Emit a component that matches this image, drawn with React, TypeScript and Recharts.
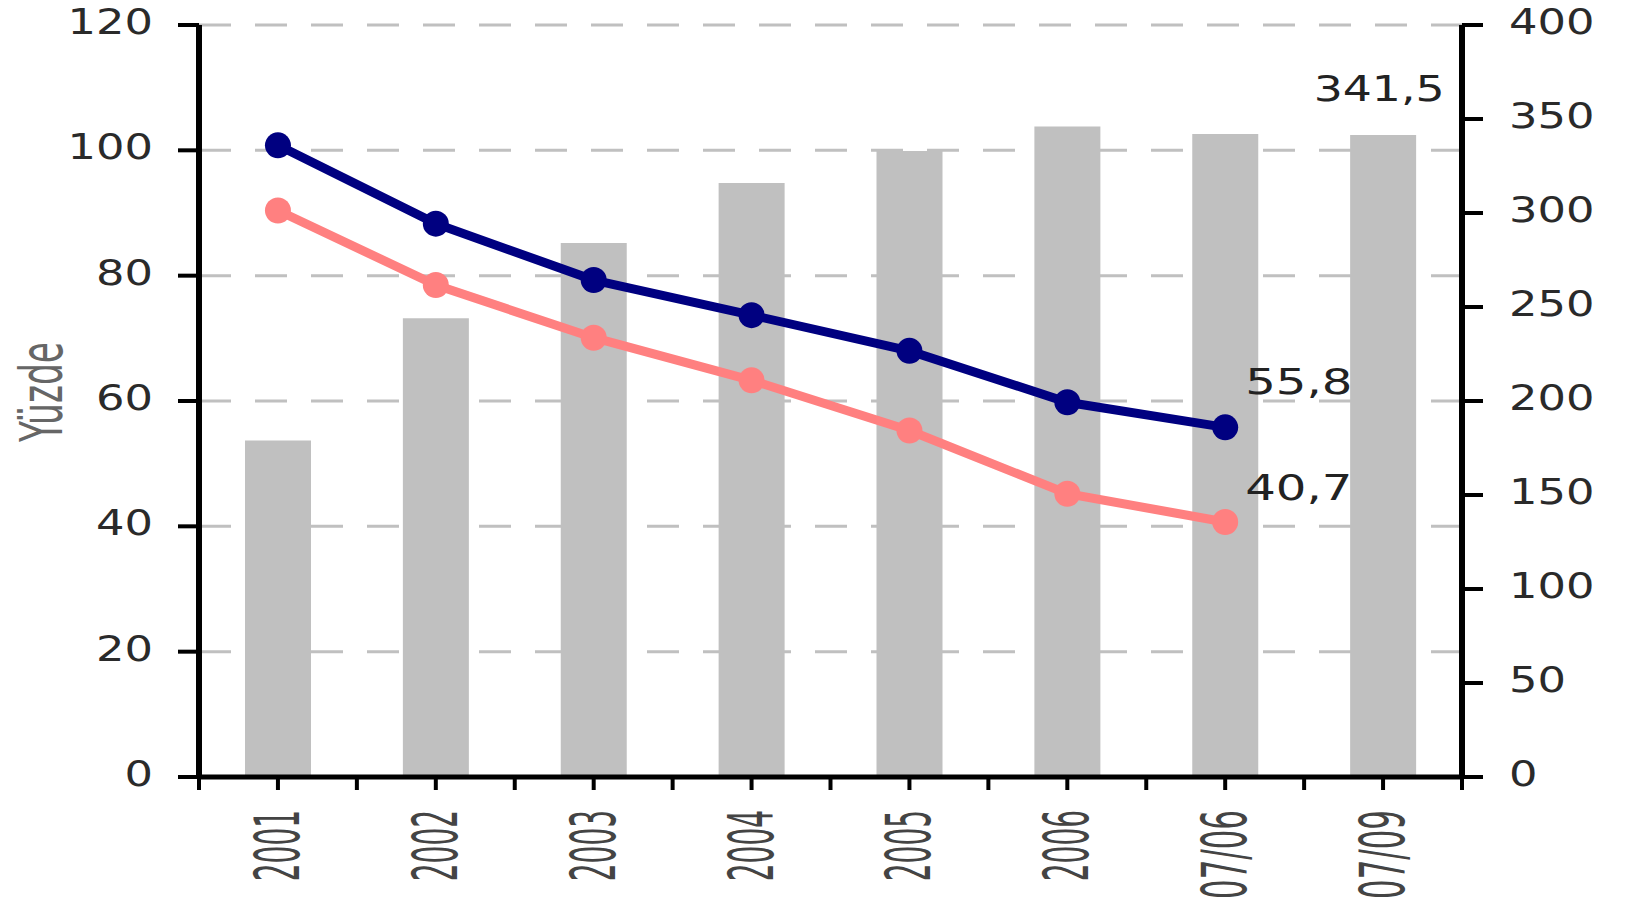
import React from 'react';
import {
  Bar,
  CartesianGrid,
  ComposedChart,
  Line,
  XAxis,
  YAxis,
} from 'recharts';

const years = ['2001', '2002', '2003', '2004', '2005', '2006', '07/06', '07/09'];
const barValues = [179, 244, 284, 316, 333, 346, 342, 341.5];
const navyValues = [100.8, 88.3, 79.3, 73.7, 68.0, 59.8, 55.8, null];
const pinkValues = [90.4, 78.5, 70.1, 63.3, 55.3, 45.2, 40.7, null];
const leftTicks = [0, 20, 40, 60, 80, 100, 120];
const rightTicks = [0, 50, 100, 150, 200, 250, 300, 350, 400];

const data = years.map((year, i) => ({
  year,
  bar: barValues[i],
  navy: navyValues[i],
  pink: pinkValues[i],
}));

const W = 1628;
const H = 904;
const PLOT_LEFT = 199;
const PLOT_RIGHT = 1462;
const PLOT_BOTTOM = 777;
const BAND = (PLOT_RIGHT - PLOT_LEFT) / years.length;
const FONT = 'DejaVu Sans';

const fmt = (v: number) => String(v).replace('.', ',');

// y axis numbers: wide, blurry looking digits
const YTick = ({ x, y, payload, anchor }: any) => {
  const s = String(payload.value);
  return (
    <text
      x={x}
      y={y + 9}
      textAnchor={anchor}
      fontFamily={FONT}
      fontSize={36}
      fill='#2a2a2a'
      textLength={s.length * 28.5}
      lengthAdjust='spacingAndGlyphs'
    >
      {s}
    </text>
  );
};

// x ticks at category centers and boundaries, labels rotated and squeezed
const XTick = ({ x, payload, index }: any) => {
  const half = BAND / 2;
  const tick = (tx: number) => (
    <line x1={tx} x2={tx} y1={PLOT_BOTTOM} y2={PLOT_BOTTOM + 13} stroke='#000' strokeWidth={4} />
  );
  const s = String(payload.value);
  return (
    <g>
      {tick(x)}
      {tick(x - half)}
      {index === years.length - 1 && tick(x + half)}
      <text
        transform={`translate(${x + 21},810) rotate(-90)`}
        textAnchor='end'
        fontFamily={FONT}
        fontSize={63}
        fill='#444'
        textLength={s.length * 17.8}
        lengthAdjust='spacingAndGlyphs'
      >
        {s}
      </text>
    </g>
  );
};

const makeEndLabel = (dy: number) => (props: any) => {
  const { x, y, value, index } = props;
  if (index !== 6 || value == null) return null;
  const s = fmt(value);
  return (
    <text
      x={x + 20}
      y={y + dy}
      fontFamily={FONT}
      fontSize={36}
      fill='#222'
      textLength={s.length * 26.8}
      lengthAdjust='spacingAndGlyphs'
    >
      {s}
    </text>
  );
};

const barLabel = (props: any) => {
  const { x, y, width, value, index } = props;
  if (index !== years.length - 1) return null;
  const s = fmt(value);
  return (
    <text
      x={x + width / 2 - 4}
      y={y - 34}
      textAnchor='middle'
      fontFamily={FONT}
      fontSize={36}
      fill='#222'
      textLength={s.length * 26.2}
      lengthAdjust='spacingAndGlyphs'
    >
      {s}
    </text>
  );
};

const yTitle = () => (
  <text
    transform='translate(62,392) rotate(-90)'
    textAnchor='middle'
    fontFamily={FONT}
    fontSize={58}
    fill='#666'
    textLength={100}
    lengthAdjust='spacingAndGlyphs'
  >
    Yüzde
  </text>
);

const App = () => {
  return (
    <div style={{ position: 'absolute', left: 0, top: 0, background: '#fff' }}>
      <ComposedChart
        width={W}
        height={H}
        data={data}
        margin={{ top: 25, right: 0, bottom: 0, left: 0 }}
      >
        <CartesianGrid
          yAxisId='left'
          vertical={false}
          stroke='#C0C0C0'
          strokeWidth={3}
          strokeDasharray='32 24'
        />
        <XAxis
          dataKey='year'
          interval={0}
          height={H - PLOT_BOTTOM}
          axisLine={{ stroke: '#000', strokeWidth: 5 }}
          tickLine={false}
          tick={<XTick />}
        />
        <YAxis
          yAxisId='left'
          orientation='left'
          width={PLOT_LEFT}
          domain={[0, 120]}
          ticks={leftTicks}
          tickSize={21}
          tickMargin={25}
          axisLine={{ stroke: '#000', strokeWidth: 6 }}
          tickLine={{ stroke: '#000', strokeWidth: 4 }}
          tick={<YTick anchor='end' />}
          label={{ content: yTitle }}
        />
        <YAxis
          yAxisId='right'
          orientation='right'
          width={W - PLOT_RIGHT}
          domain={[0, 400]}
          ticks={rightTicks}
          tickSize={21}
          tickMargin={26}
          axisLine={{ stroke: '#000', strokeWidth: 6 }}
          tickLine={{ stroke: '#000', strokeWidth: 4 }}
          tick={<YTick anchor='start' />}
        />
        <Bar
          yAxisId='right'
          dataKey='bar'
          fill='#C0C0C0'
          barSize={66}
          isAnimationActive={false}
          label={barLabel}
        />
        <Line
          yAxisId='left'
          dataKey='pink'
          stroke='#FF8080'
          strokeWidth={9}
          dot={{ r: 13, fill: '#FF8080', stroke: 'none' }}
          activeDot={false}
          isAnimationActive={false}
          label={makeEndLabel(-22)}
        />
        <Line
          yAxisId='left'
          dataKey='navy'
          stroke='#000080'
          strokeWidth={9}
          dot={{ r: 13, fill: '#000080', stroke: 'none' }}
          activeDot={false}
          isAnimationActive={false}
          label={makeEndLabel(-33)}
        />
      </ComposedChart>
    </div>
  );
};

export default App;
